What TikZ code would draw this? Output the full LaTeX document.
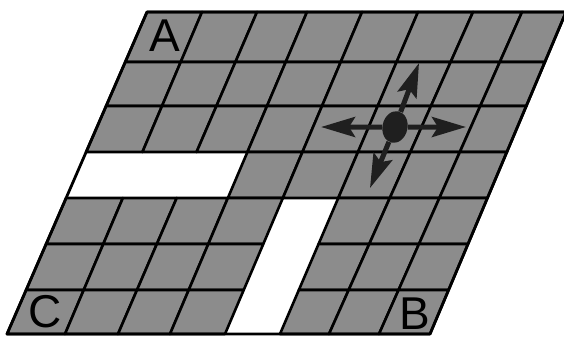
\documentclass[tikz,border=0pt]{standalone}
\usepackage{fontspec}
\setmainfont{Liberation Sans}
\usetikzlibrary{calc,arrows.meta,shapes.geometric}
\begin{document}
\begin{tikzpicture}[x=1pt,y=-1pt,
  cell/.style={fill=black!45,draw=black,line width=2.6pt,line join=round},
  border/.style={draw=black,line width=2.8pt,line join=round},
  lbl/.style={font=\fontsize{46}{46}\selectfont,inner sep=0pt,text=black},
  robot/.style={ellipse,fill=black!88,inner sep=0pt,minimum width=25pt,minimum height=32pt},
  mv/.style={line width=5pt,draw=black!88,-{Stealth[length=34pt,width=20pt,inset=6pt]}}]
\useasboundingbox (0,0) rectangle (564,338);
\foreach \i/\t/\b in {0/147/7,1/202/65,2/257/118,3/307/170,4/362/225,5/418/280,6/473/329,7/522/379,8/566/430}{
  \coordinate (T\i) at (\t,12);
  \coordinate (B\i) at (\b,334);
}
\foreach \j/\y in {0/12,1/62,2/106,3/152,4/198,5/244,6/290,7/334}{
  \foreach \i in {0,...,8}{
    \coordinate (P-\i-\j) at ($(T\i)!{(\y-12)/322}!(B\i)$);
  }
}
\foreach \i in {0,...,7}{
  \foreach \j in {0,...,6}{
    \pgfmathtruncatemacro\w{((\j==3) && (\i<3)) || ((\j>3) && (\i==4))}
    \ifnum\w=0
      \pgfmathtruncatemacro\ii{\i+1}
      \pgfmathtruncatemacro\jj{\j+1}
      \filldraw[cell] (P-\i-\j) -- (P-\ii-\j) -- (P-\ii-\jj) -- (P-\i-\jj) -- cycle;
    \fi
  }
}
\draw[border] (P-0-0) -- (P-8-0) -- (P-8-7) -- (P-0-7) -- cycle;
% labels
\node[lbl] (A) at (165,36) {A};
\node[lbl] (C) at (45,312) {C};
\node[lbl] (B) at (415,314) {B};
% robot
\node[robot,rotate=-12] (bot) at (395,127) {};
\coordinate (tl) at (321,127);
\coordinate (tr) at (466,127);
\coordinate (tu) at (419,63);
\coordinate (td) at (370,188);
\draw[mv] (bot) -- (tl);
\draw[mv] (bot) -- (tr);
\draw[mv] (bot) -- (tu);
\draw[mv] (bot) -- (td);
\end{tikzpicture}
\end{document}
